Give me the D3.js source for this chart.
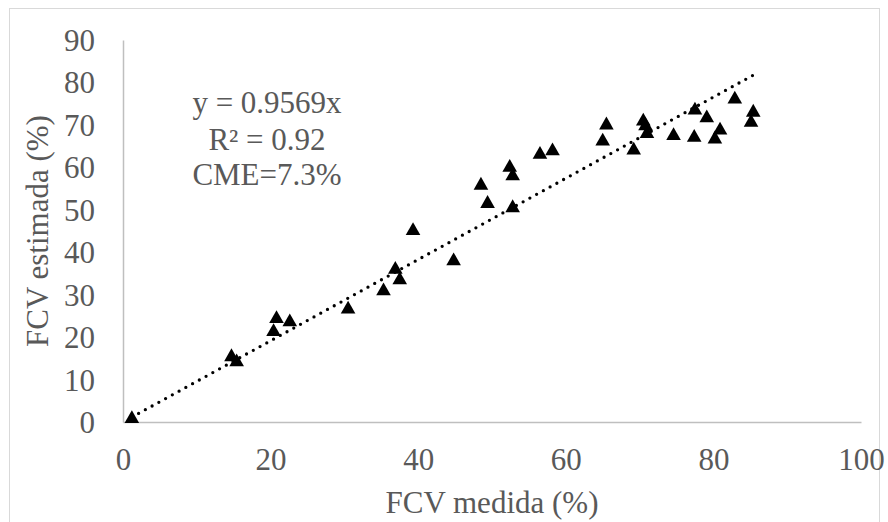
<!DOCTYPE html>
<html>
<head>
<meta charset="utf-8">
<script src="https://cdn.jsdelivr.net/npm/d3@7"></script>
<style>
  body { margin: 0; background: #fff; }
  svg { display: block; }
</style>
</head>
<body>
<svg id="chart"></svg>
<script>
// measured vs estimated FCV (%)
const medida = [1.2, 14.7, 15.4, 20.4, 20.8, 22.6, 30.5, 35.3, 36.9, 37.5, 39.3, 44.8,
  48.5, 49.4, 52.4, 52.8, 52.8, 56.5, 58.2, 65.0, 65.5, 69.2, 70.5, 70.8, 71.0, 74.6,
  77.4, 77.5, 79.1, 80.2, 80.9, 82.9, 85.1, 85.4];
const estimada = [1.2, 15.8, 14.6, 21.7, 24.8, 24.0, 27.0, 31.3, 36.4, 33.9, 45.5, 38.4,
  56.2, 51.9, 60.4, 58.4, 50.9, 63.5, 64.3, 66.6, 70.4, 64.5, 71.3, 70.2, 68.4, 67.9,
  67.5, 73.9, 72.1, 67.1, 69.2, 76.5, 71.0, 73.4];

// trend line y = slope * x (through origin)
const slope = 0.9569;
const annotation = ['y = 0.9569x', 'R² = 0.92', 'CME=7.3%'];

const xTicks = [0, 20, 40, 60, 80, 100];
const yTicks = [0, 10, 20, 30, 40, 50, 60, 70, 80, 90];

const w = 888;
const h = 522;
const plotLeft = 123, plotRight = 861, plotTop = 40, plotBottom = 422;
const textColor = '#595959';
const font = '"Liberation Serif", "Times New Roman", serif';
const fontSize = '31px';

const svg = d3.select('#chart')
    .attr('width', w)
    .attr('height', h)
    .style('font-family', font);

svg.append('rect')
    .attr('width', w).attr('height', h)
    .attr('fill', '#fff');

// chart area border
svg.append('rect')
    .attr('x', 9.5).attr('y', 8.5)
    .attr('width', 870).attr('height', 530)
    .attr('fill', 'none')
    .attr('stroke', '#d9d9d9')
    .attr('stroke-width', 1);

const xScale = d3.scaleLinear().domain([0, 100]).range([plotLeft, plotRight]);
const yScale = d3.scaleLinear().domain([0, 90]).range([plotBottom, plotTop]);

// axes
const xAxis = d3.axisBottom(xScale).tickValues(xTicks).tickSize(0).tickPadding(26);
const yAxis = d3.axisLeft(yScale).tickValues(yTicks).tickSize(0).tickPadding(28);

const gx = svg.append('g')
    .attr('transform', 'translate(0,' + plotBottom + ')')
    .call(xAxis);
const gy = svg.append('g')
    .attr('transform', 'translate(' + plotLeft + ',0)')
    .call(yAxis);

[gx, gy].forEach(g => {
    g.select('.domain').attr('stroke', '#bfbfbf').attr('stroke-width', 1.5);
    g.selectAll('text')
        .attr('fill', textColor)
        .style('font-family', font)
        .style('font-size', fontSize);
});
gy.selectAll('text').attr('dy', '0.34em');

// axis titles
svg.append('text')
    .attr('x', (plotLeft + plotRight) / 2)
    .attr('y', 513)
    .attr('text-anchor', 'middle')
    .attr('fill', textColor)
    .style('font-size', fontSize)
    .text('FCV medida (%)');

svg.append('text')
    .attr('transform', 'translate(48,' + (plotTop + plotBottom) / 2 + ') rotate(-90)')
    .attr('text-anchor', 'middle')
    .attr('fill', textColor)
    .style('font-size', fontSize)
    .text('FCV estimada (%)');

// dotted trend line over the data range
const xr = d3.extent(medida);
svg.append('line')
    .attr('x1', xScale(xr[0])).attr('y1', yScale(slope * xr[0]))
    .attr('x2', xScale(xr[1])).attr('y2', yScale(slope * xr[1]))
    .attr('stroke', '#000')
    .attr('stroke-width', 3.3)
    .attr('stroke-linecap', 'round')
    .attr('stroke-dasharray', '0 7.7');

// triangle markers
const points = medida.map((m, i) => [m, estimada[i]]);
svg.append('g').selectAll('path')
    .data(points)
    .enter()
    .append('path')
    .attr('d', 'M0,-6.6L7.3,6.2L-7.3,6.2Z')
    .attr('transform', d => 'translate(' + xScale(d[0]) + ',' + yScale(d[1]) + ')')
    .attr('fill', '#000');

// equation text
svg.append('text')
    .attr('x', 267)
    .attr('y', 113)
    .attr('text-anchor', 'middle')
    .attr('fill', textColor)
    .style('font-size', fontSize)
    .selectAll('tspan')
    .data(annotation)
    .enter()
    .append('tspan')
    .attr('x', 267)
    .attr('dy', (d, i) => i === 0 ? 0 : (i === 1 ? 37 : 35))
    .text(d => d);
</script>
</body>
</html>
